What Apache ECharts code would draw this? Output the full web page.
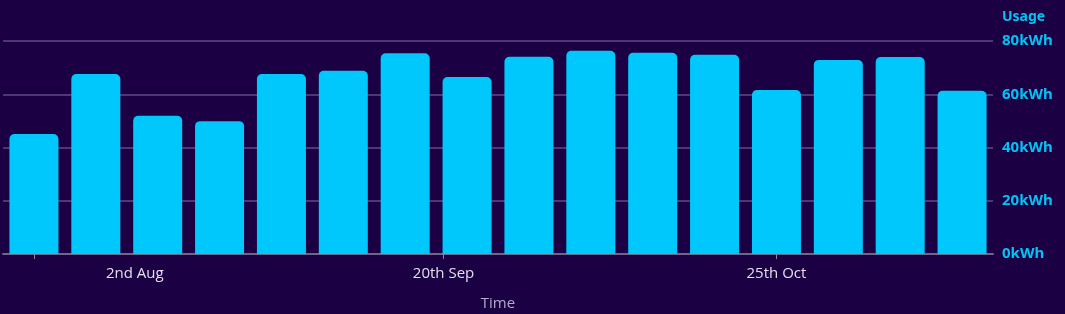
<!DOCTYPE html>
<html>
<head>
<meta charset="utf-8">
<script src="https://cdn.jsdelivr.net/npm/echarts@6/dist/echarts.min.js"></script>
<style>
html,body{margin:0;padding:0;background:#1b0044;}
#c{width:1065px;height:314px;}
</style>
</head>
<body>
<div id="c"></div>
<script>
// Weekly periods (bar categories)
const categories = ['2 Aug','9 Aug','16 Aug','23 Aug','30 Aug','6 Sep','13 Sep','20 Sep','27 Sep','4 Oct','11 Oct','18 Oct','25 Oct','1 Nov','8 Nov','15 Nov'];
// Usage in kWh
const usage = [45.1, 67.6, 51.9, 49.9, 67.6, 68.8, 75.4, 66.5, 74.1, 76.3, 75.6, 74.8, 61.6, 72.9, 74.0, 61.3];
// Y axis ticks
const yTicks = [0, 20, 40, 60, 80];
// X axis tick labels
const xTickLabels = ['2nd Aug', '20th Sep', '25th Oct'];

const labelPos = [1.63, 6.62, 12];
const tickPos = [0, 6.62, 12];

const chart = echarts.init(document.getElementById('c'), null, {renderer: 'canvas'});
chart.setOption({
  backgroundColor: '#1b0044',
  animation: false,
  grid: {left: 3, right: 72, top: 41, bottom: 60, containLabel: false, outerBoundsMode: 'none'},
  xAxis: [{
    type: 'category',
    data: categories,
    axisLine: {show: true, lineStyle: {color: '#6c6889', width: 2}},
    axisTick: {show: false},
    axisLabel: {show: false},
    name: 'Time',
    nameLocation: 'middle',
    nameGap: 42,
    nameTextStyle: {color: '#b3abcd', fontSize: 15, fontFamily: 'Open Sans'}
  }, {
    type: 'value',
    position: 'bottom',
    min: -0.5,
    max: categories.length - 0.5,
    splitLine: {show: false},
    axisLine: {show: false, onZero: false},
    axisTick: {show: true, length: 5, lineStyle: {color: '#8a86a3'}, customValues: tickPos},
    axisLabel: {
      show: true,
      customValues: labelPos,
      margin: 12,
      color: '#e4deef',
      fontSize: 15,
      fontFamily: 'Open Sans',
      formatter: function (v) {
        const i = labelPos.indexOf(v);
        return i >= 0 ? xTickLabels[i] : '';
      }
    }
  }],
  yAxis: {
    type: 'value',
    position: 'right',
    min: yTicks[0],
    max: yTicks[yTicks.length - 1],
    interval: 20,
    name: 'Usage',
    nameLocation: 'end',
    nameGap: 17,
    nameTextStyle: {color: '#00c3f5', fontSize: 14, fontWeight: 'bold', fontFamily: 'Noto Sans', align: 'left', padding: [0, 0, 0, 9]},
    axisLine: {show: false, onZero: false},
    axisTick: {show: false},
    axisLabel: {
      margin: 9,
      color: '#00c3f5',
      fontSize: 15,
      fontWeight: 'bold',
      fontFamily: 'Noto Sans',
      formatter: '{value}kWh'
    },
    splitLine: {show: true, lineStyle: {color: '#5d4c82', width: 1.5}}
  },
  series: [{
    type: 'bar',
    data: usage,
    barWidth: 49,
    itemStyle: {color: '#00c8fd', borderRadius: [5, 5, 0, 0]}
  }]
});
</script>
</body>
</html>
